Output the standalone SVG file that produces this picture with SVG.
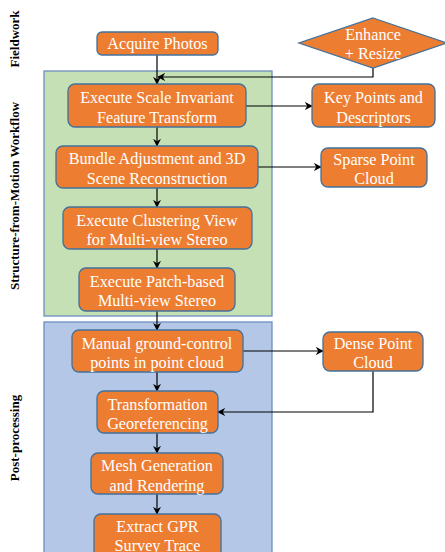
<svg xmlns="http://www.w3.org/2000/svg" width="445" height="552" viewBox="0 0 445 552">
<defs>
<style>
.node rect, .node polygon { fill: #ED7D31; stroke: #41719C; stroke-width: 1.3; }
.node text { font-family: "Liberation Serif", "Times New Roman", serif; font-size: 16.2px; fill: #FFFFFF; text-anchor: middle; }
.lane text { font-family: "Liberation Serif", "Times New Roman", serif; font-size: 13px; font-weight: bold; fill: #000; text-anchor: middle; }
.conn path { fill: none; stroke: #000; stroke-width: 1.2; marker-end: url(#arr); }
</style>
<marker id="arr" viewBox="0 0 10 10" refX="9" refY="5" markerWidth="8" markerHeight="8" markerUnits="userSpaceOnUse" orient="auto">
<path d="M0,0 L10,5 L0,10 L3,5 Z" fill="#000"/>
</marker>
</defs>
<rect width="445" height="552" fill="#FFFFFF"/>
<g id="lanes" class="lane">
<rect x="44" y="71" width="228" height="245" fill="#C5E0B4" stroke="#6C8EBF" stroke-width="1.3"/>
<rect x="44" y="322" width="228" height="240" fill="#B4C7E7" stroke="#6C8EBF" stroke-width="1.3"/>
<text transform="translate(19,39) rotate(-90)">Fieldwork</text>
<text transform="translate(19,196) rotate(-90)">Structure-from-Motion Workflow</text>
<text transform="translate(19,438) rotate(-90)">Post-processing</text>
</g>
<g id="connectors" class="conn">
<path d="M157,55 L157,84"/>
<path d="M373,68 L373,77 L158,77"/>
<path d="M246,106 L312,106"/>
<path d="M157,127 L157,146"/>
<path d="M258,167 L321,167"/>
<path d="M157,188 L157,207"/>
<path d="M157,249 L157,268"/>
<path d="M157,311 L157,330"/>
<path d="M243,351 L323,351"/>
<path d="M157,372 L157,391"/>
<path d="M373,371 L373,412 L218,412"/>
<path d="M157,433 L157,453"/>
<path d="M157,494 L157,514"/>
</g>
<g id="acquire" class="node">
<rect x="97" y="32" width="121" height="23" rx="5"/>
<text x="157.5" y="49">Acquire Photos</text>
</g>
<g id="enhance" class="node">
<polygon points="373,18 447,43 373,68 299,43"/>
<text x="373" y="40">Enhance</text>
<text x="373" y="58.5">+ Resize</text>
</g>
<g id="sift" class="node">
<rect x="68" y="84" width="178" height="43" rx="7"/>
<text x="157" y="102.5">Execute Scale Invariant</text>
<text x="157" y="122.5">Feature Transform</text>
</g>
<g id="keypoints" class="node">
<rect x="312" y="84" width="123" height="43" rx="7"/>
<text x="373.5" y="102.5">Key Points and</text>
<text x="373.5" y="122.5">Descriptors</text>
</g>
<g id="bundle" class="node">
<rect x="56" y="146" width="202" height="42" rx="7"/>
<text x="157" y="164">Bundle Adjustment and 3D</text>
<text x="157" y="183.5">Scene Reconstruction</text>
</g>
<g id="sparse" class="node">
<rect x="321" y="148" width="106" height="39" rx="7"/>
<text x="374" y="164.5">Sparse Point</text>
<text x="374" y="183.5">Cloud</text>
</g>
<g id="cluster" class="node">
<rect x="63" y="207" width="189" height="42" rx="7"/>
<text x="157" y="225.5">Execute Clustering View</text>
<text x="157" y="244.5">for Multi-view Stereo</text>
</g>
<g id="patch" class="node">
<rect x="79" y="268" width="156" height="43" rx="7"/>
<text x="157" y="286.5">Execute Patch-based</text>
<text x="157" y="306">Multi-view Stereo</text>
</g>
<g id="manual" class="node">
<rect x="72" y="330" width="171" height="42" rx="7"/>
<text x="157" y="348.5">Manual ground-control</text>
<text x="157" y="367.5">points in point cloud</text>
</g>
<g id="dense" class="node">
<rect x="323" y="332" width="100" height="39" rx="7"/>
<text x="373" y="348.5">Dense Point</text>
<text x="373" y="367.5">Cloud</text>
</g>
<g id="transform" class="node">
<rect x="97" y="391" width="121" height="42" rx="7"/>
<text x="157.5" y="409.5">Transformation</text>
<text x="157.5" y="429">Georeferencing</text>
</g>
<g id="mesh" class="node">
<rect x="91" y="453" width="132" height="41" rx="7"/>
<text x="157" y="471">Mesh Generation</text>
<text x="157" y="490.5">and Rendering</text>
</g>
<g id="extract" class="node">
<rect x="94" y="514" width="127" height="44" rx="7"/>
<text x="157.5" y="532">Extract GPR</text>
<text x="157.5" y="551">Survey Trace</text>
</g>
</svg>
